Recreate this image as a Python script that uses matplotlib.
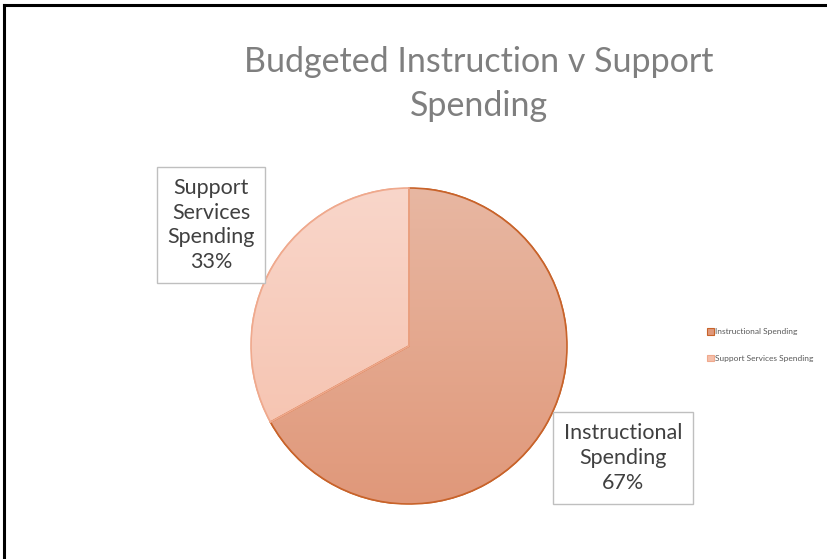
import numpy as np
import matplotlib.pyplot as plt
from matplotlib.lines import Line2D
from matplotlib.patches import Patch, Wedge
from matplotlib.colors import to_rgb

labels = ['Instructional Spending', 'Support Services Spending']
shares = [67, 33]
box_labels = ['Instructional\nSpending\n67%', 'Support\nServices\nSpending\n33%']
top_colors = ['#E8B7A2', '#F9D6CA']
bottom_colors = ['#E0987A', '#F5BFAA']
edge_colors = ['#C8632A', '#EFA98D']

W, H = 828, 559
fig = plt.figure(figsize=(W / 100, H / 100), dpi=100)

# pie center (409, 346) px, radius 158 px
cx, cy, r = 409, H - 346, 158
ax = fig.add_axes([(cx - r) / W, (cy - r) / H, 2 * r / W, 2 * r / H])
wedges, _ = ax.pie(shares, startangle=90, counterclock=False, radius=1,
                   colors=bottom_colors, wedgeprops=dict(linewidth=1.2))
for w, ec in zip(wedges, edge_colors):
    w.set_edgecolor(ec)

# vertical gradient inside each slice
for w, c0, c1 in zip(wedges, top_colors, bottom_colors):
    a = np.array(to_rgb(c0))
    b = np.array(to_rgb(c1))
    t = np.linspace(0, 1, 256)[:, None]
    img = (a * (1 - t) + b * t)[:, None, :]
    im = ax.imshow(img, extent=[-1, 1, -1, 1], origin='upper', aspect='auto',
                   zorder=w.get_zorder() + 0.1)
    im.set_clip_path(w)
    ax.add_patch(Wedge(w.center, w.r, w.theta1, w.theta2, fill=False,
                       edgecolor=w.get_edgecolor(), linewidth=1.2,
                       zorder=w.get_zorder() + 0.2))
ax.set_xlim(-1, 1)
ax.set_ylim(-1, 1)
ax.set_aspect('equal')
ax.axis('off')

# data label boxes
font = 'Lato'
box = dict(boxstyle='square,pad=0.5', fc='white', ec='#BFBFBF', lw=1)
fig.text(623 / W, 1 - 458 / H, box_labels[0], ha='center', va='center', fontsize=15.5,
         family=font, color='#404040', linespacing=1.3, bbox=box)
fig.text(211 / W, 1 - 225 / H, box_labels[1], ha='center', va='center', fontsize=15.5,
         family=font, color='#404040', linespacing=1.3, bbox=box)

# title
fig.text(479 / W, 1 - 84 / H, 'Budgeted Instruction v Support\nSpending', ha='center', va='center',
         fontsize=24.5, family=font, color='#7F7F7F', linespacing=1.45)

# legend
handles = [Patch(facecolor='#E0987A', edgecolor='#C8632A', lw=0.8),
           Patch(facecolor='#F5BFAA', edgecolor='#EFA98D', lw=0.8)]
fig.legend(handles, labels, loc='center left', bbox_to_anchor=(700 / W, 1 - 345 / H),
           frameon=False, prop=dict(family=font, size=6.0),
           handlelength=0.8, handleheight=0.8, handletextpad=0.15, labelspacing=2.3,
           labelcolor='#595959')

# outer frame lines (top and left)
fig.add_artist(Line2D([4 / W, 1], [1 - 5 / H, 1 - 5 / H], color='black', lw=2.2,
                      transform=fig.transFigure))
fig.add_artist(Line2D([4 / W, 4 / W], [0, 1 - 5 / H], color='black', lw=2.2,
                      transform=fig.transFigure))

fig.savefig('out.png', dpi=100)
